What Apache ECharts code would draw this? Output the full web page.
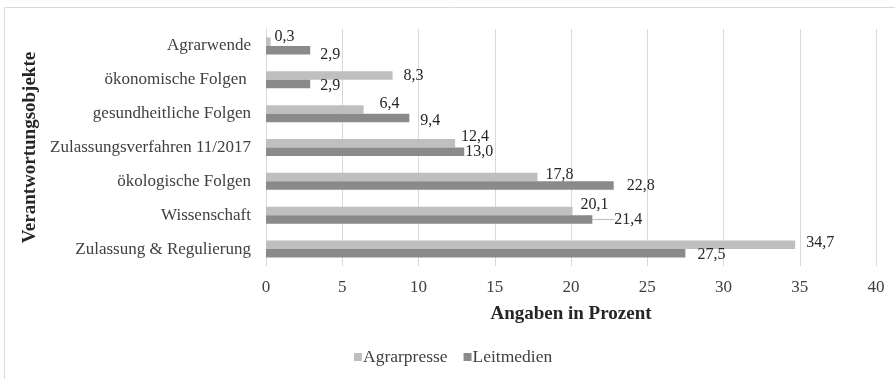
<!DOCTYPE html>
<html><head><meta charset="utf-8">
<script src="https://cdn.jsdelivr.net/npm/echarts@6/dist/echarts.min.js"></script>
<style>html,body{margin:0;padding:0;background:#fff}#c{width:895px;height:379px}</style>
</head><body><div id="c"></div>
<script>
const categories = ['Agrarwende','ökonomische Folgen ','gesundheitliche Folgen','Zulassungsverfahren 11/2017','ökologische Folgen','Wissenschaft','Zulassung & Regulierung'];
const agrarpresse = [0.3, 8.3, 6.4, 12.4, 17.8, 20.1, 34.7];
const leitmedien = [2.9, 2.9, 9.4, 13.0, 22.8, 21.4, 27.5];
const xTicks = [0, 5, 10, 15, 20, 25, 30, 35, 40];
// label nudges [dx, dy] (styling only)
const nudgeA = [[4,-5],[11,0],[16,-6],[6,-6],[8,-2],[8,-6],[11,-2]];
const nudgeL = [[10,5],[10,2],[11,3],[1,0],[13,0],[22,0],[12,1]];

const font = 'Liberation Serif';
const fmt = v => v.toFixed(1).replace('.', ',');
const chart = echarts.init(document.getElementById('c'), null, {renderer:'canvas'});
chart.setOption({
  animation:false,
  textStyle:{fontFamily:font},
  graphic:[{type:'rect', shape:{x:4.5,y:7.5,width:1000,height:1000}, style:{fill:'none', stroke:'#d9d9d9', lineWidth:1}, silent:true}],
  grid:{left:266, right:19, top:29, bottom:113},
  legend:{bottom:8, left:349, itemWidth:8, itemHeight:8, itemGap:16, icon:'rect',
    textStyle:{fontFamily:font, fontSize:17.5, color:'#404040', padding:[0,0,0,-4]},
    data:['Agrarpresse','Leitmedien']},
  xAxis:{type:'value', min:0, max:40, interval:5,
    name:'Angaben in Prozent', nameLocation:'middle', nameGap:39,
    nameTextStyle:{fontFamily:font, fontSize:19, fontWeight:'bold', color:'#262626'},
    axisLine:{show:false}, axisTick:{show:false},
    splitLine:{lineStyle:{color:'#d9d9d9'}},
    axisLabel:{fontFamily:font, fontSize:17, color:'#404040', margin:13,
      formatter: v => xTicks.includes(v) ? String(v) : ''}},
  yAxis:{type:'category', data:categories, inverse:true,
    name:'Verantwortungsobjekte', nameLocation:'middle', nameGap:216,
    nameTextStyle:{fontFamily:font, fontSize:19, fontWeight:'bold', color:'#262626'},
    axisLine:{lineStyle:{color:'#d9d9d9'}}, axisTick:{show:false},
    axisLabel:{fontFamily:font, fontSize:17, color:'#404040', margin:15}},
  series:[
    {name:'Agrarpresse', type:'bar', data:agrarpresse, barWidth:8.5, barGap:'0%',
     itemStyle:{color:'#bfbfbf'},
     label:{show:true, position:'right', distance:0, fontFamily:font, fontSize:16, color:'#262626',
       formatter:p=>fmt(p.value)},
     labelLayout: p => ({dx:nudgeA[p.dataIndex][0], dy:nudgeA[p.dataIndex][1]})},
    {name:'Leitmedien', type:'bar',
     data:leitmedien.map((v,i)=> i===5 ? {value:v, labelLine:{show:true}} : v),
     barWidth:8.5, barGap:'0%',
     itemStyle:{color:'#8a8a8a'},
     label:{show:true, position:'right', distance:0, fontFamily:font, fontSize:16, color:'#262626',
       formatter:p=>fmt(p.value)},
     labelLayout: p => ({dx:nudgeL[p.dataIndex][0], dy:nudgeL[p.dataIndex][1]}),
     labelLine:{show:false, lineStyle:{color:'#bfbfbf', width:1}}}
  ]
});
</script></body></html>
